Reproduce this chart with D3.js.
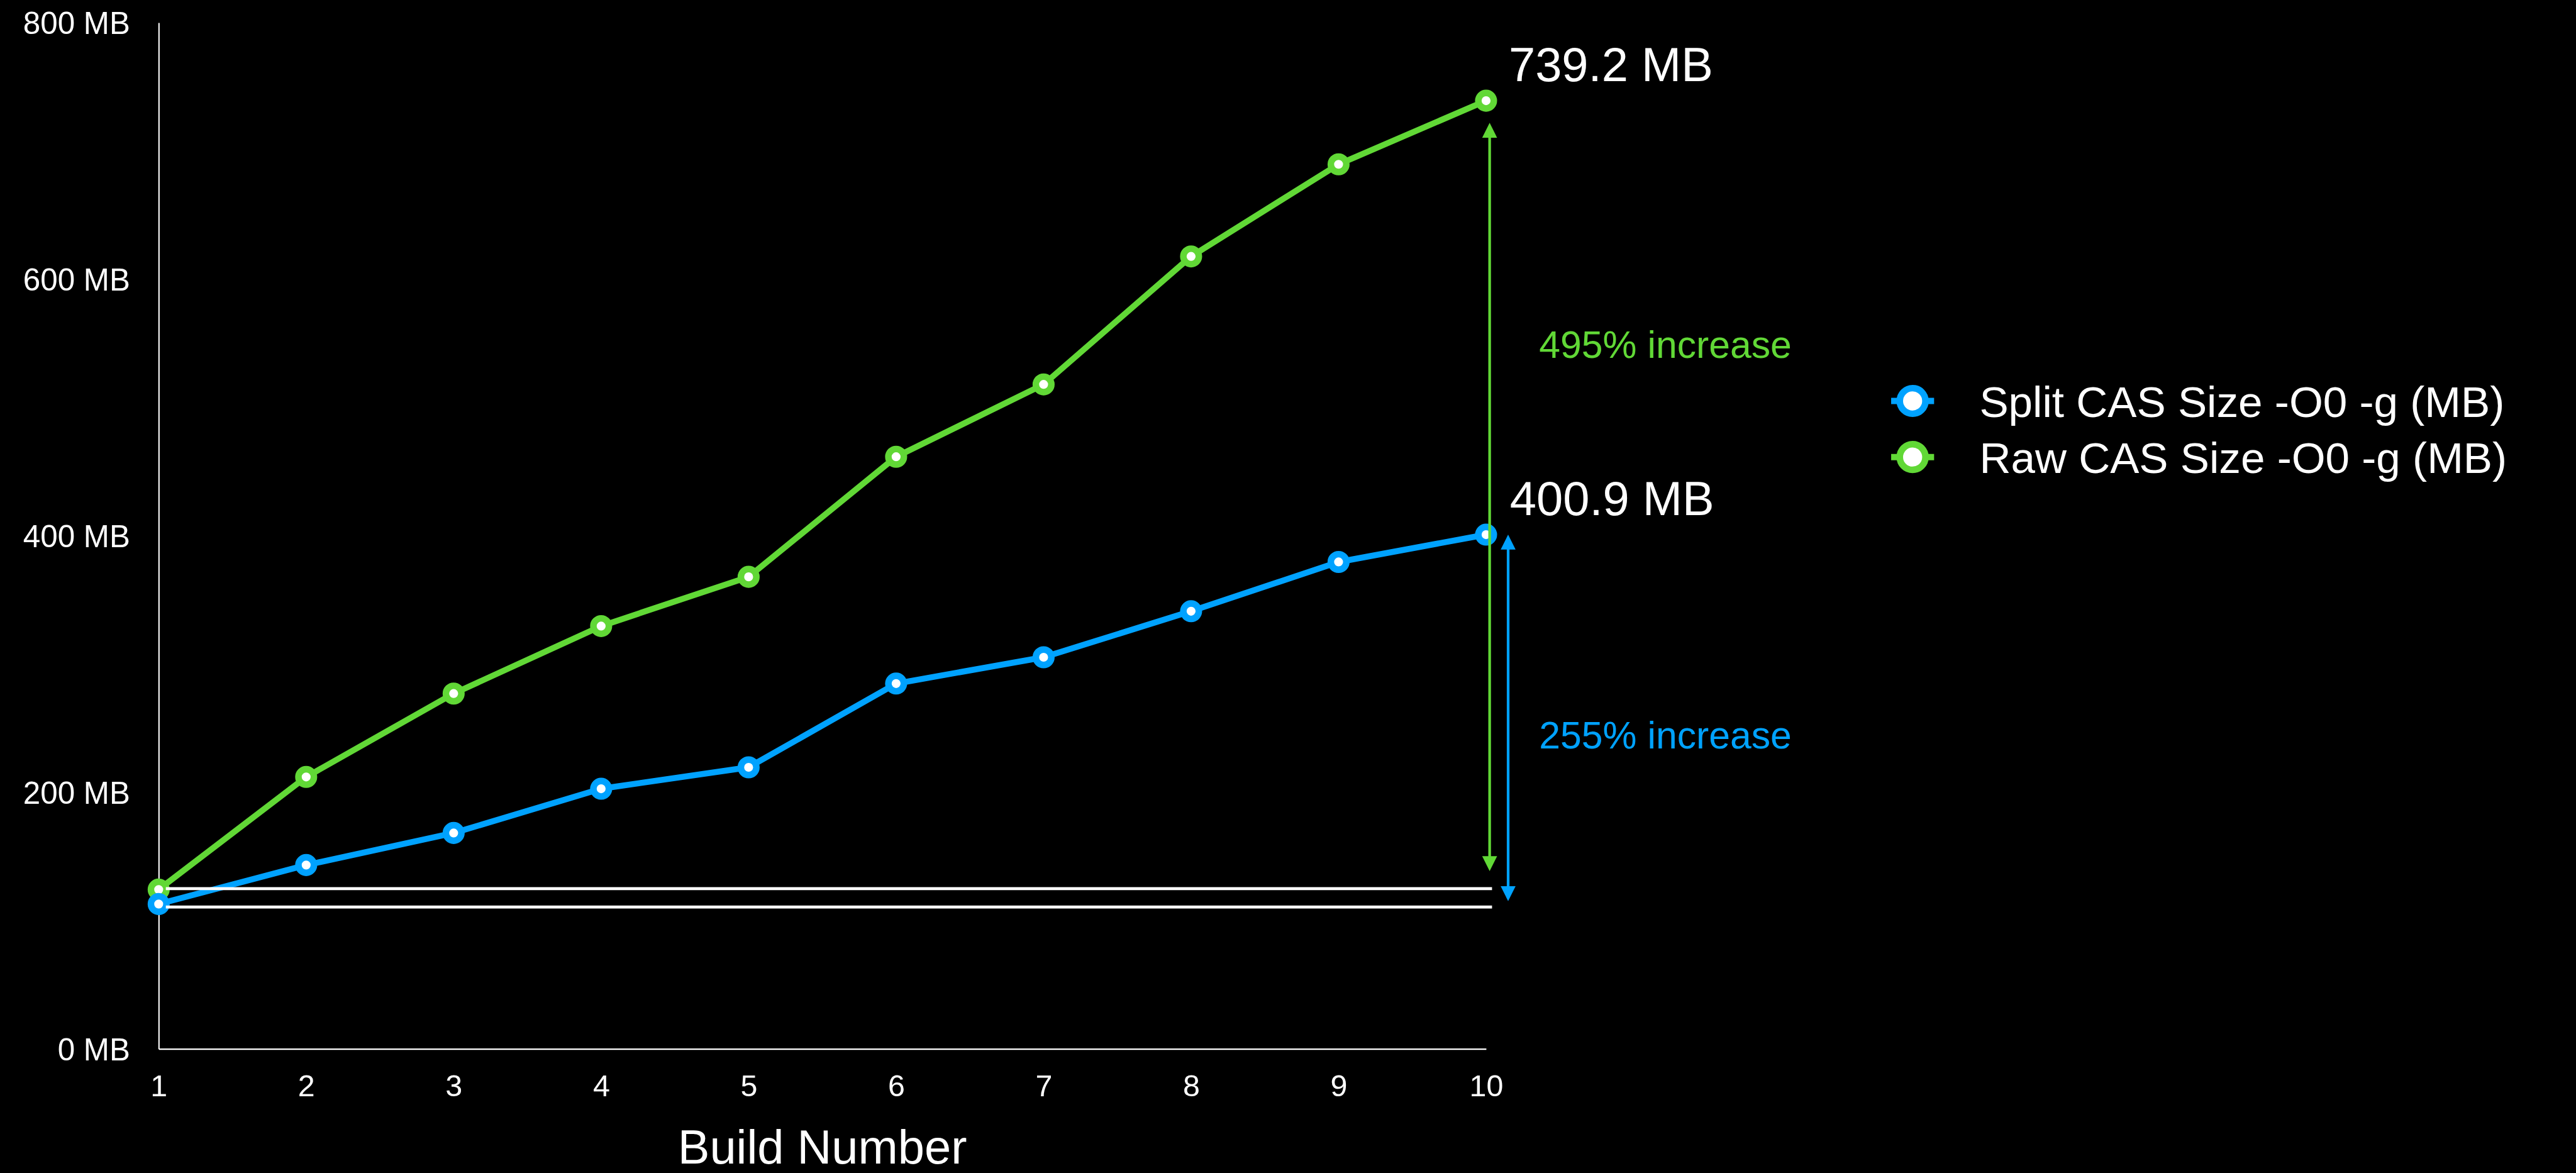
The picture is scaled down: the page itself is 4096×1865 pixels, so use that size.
<!DOCTYPE html>
<html>
<head>
<meta charset="utf-8">
<script src="https://cdn.jsdelivr.net/npm/d3@7"></script>
<style>
  html, body { margin: 0; padding: 0; background: #000; overflow: hidden; }
  svg { display: block; }
  text { font-family: "Liberation Sans", Arial, Helvetica, sans-serif; }
</style>
</head>
<body>
<svg id="chart"></svg>
<script>
// Build-to-build CAS size, in MB
const builds = [1, 2, 3, 4, 5, 6, 7, 8, 9, 10];
const splitCAS = [112.9, 143.3, 168.3, 202.8, 219.5, 284.8, 305.3, 341.2, 379.6, 400.9];
const rawCAS   = [124.2, 212.0, 277.0, 329.6, 368.0, 461.6, 518.0, 617.8, 689.6, 739.2];
const yTicks = [0, 200, 400, 600, 800];
const seriesNames = ["Split CAS Size -O0 -g (MB)", "Raw CAS Size -O0 -g (MB)"];
const endLabels = ["400.9 MB", "739.2 MB"];
const increaseLabels = ["255% increase", "495% increase"];
const baselineGuides = [110.6, 124.9];
const xTitle = "Build Number";

const BLUE = "#00a2ff", GREEN = "#61d836";

// Layout is authored in a 4318 x 1966 space and scaled to the window.
const W = 4318, H = 1966;
const svg = d3.select("#chart")
  .attr("width", 4096).attr("height", 1865)
  .attr("viewBox", `0 0 ${W} ${H}`);
svg.append("rect").attr("width", W).attr("height", H).attr("fill", "#000");

const x = d3.scaleLinear().domain([1, 10]).range([266, 2491]);
const y = d3.scaleLinear().domain([0, 800]).range([1758, 38]);

// Axes
const yAxis = svg.append("g").attr("transform", `translate(${x(1)},0)`)
  .call(d3.axisLeft(y).tickValues(yTicks).tickSize(0).tickPadding(48)
    .tickFormat(d => `${d} MB`));
const xAxis = svg.append("g").attr("transform", `translate(0,${y(0)})`)
  .call(d3.axisBottom(x).tickValues(builds).tickSize(0).tickPadding(43)
    .tickFormat(d3.format("d")));
[yAxis, xAxis].forEach(g => {
  g.select(".domain").attr("stroke", "#fff").attr("stroke-width", 2.2);
  g.selectAll("text").attr("fill", "#fff").attr("font-size", 52);
});
yAxis.selectAll("text").attr("dy", "0.36em");
xAxis.selectAll("text").attr("font-size", 51);

svg.append("text")
  .attr("x", (x(1) + x(10)) / 2).attr("y", 1950)
  .attr("text-anchor", "middle").attr("fill", "#fff").attr("font-size", 80)
  .text(xTitle);

// Series lines and markers
const series = [
  { values: rawCAS, color: GREEN },
  { values: splitCAS, color: BLUE }
];
const line = d3.line().x((d, i) => x(builds[i])).y(d => y(d));
series.forEach(s => {
  svg.append("path").datum(s.values)
    .attr("d", line).attr("fill", "none")
    .attr("stroke", s.color).attr("stroke-width", 10)
    .attr("stroke-linejoin", "round");
});
series.forEach(s => {
  svg.append("g").selectAll("circle").data(s.values).join("circle")
    .attr("cx", (d, i) => x(builds[i])).attr("cy", d => y(d))
    .attr("r", 13).attr("fill", "#fff")
    .attr("stroke", s.color).attr("stroke-width", 11);
});

// Baseline guides from build 1
svg.append("g").selectAll("line").data(baselineGuides).join("line")
  .attr("x1", x(1) + 12).attr("x2", x(10) + 10)
  .attr("y1", d => y(d)).attr("y2", d => y(d))
  .attr("stroke", "#fff").attr("stroke-width", 5);

// Double-headed growth arrows
function arrow(ax, yTop, yBot, color) {
  const hl = 25, hw = 12.5;
  svg.append("line").attr("x1", ax).attr("x2", ax)
    .attr("y1", yTop + hl - 1).attr("y2", yBot - hl + 1)
    .attr("stroke", color).attr("stroke-width", 4.5);
  svg.append("path")
    .attr("d", `M${ax},${yTop} L${ax - hw},${yTop + hl} L${ax + hw},${yTop + hl} Z`)
    .attr("fill", color);
  svg.append("path")
    .attr("d", `M${ax},${yBot} L${ax - hw},${yBot - hl} L${ax + hw},${yBot - hl} Z`)
    .attr("fill", color);
}
arrow(x(10) + 6, y(rawCAS[9]) + 37, y(rawCAS[0]) - 31, GREEN);
arrow(x(10) + 37, y(splitCAS[9]), y(splitCAS[0]) - 5, BLUE);

// End value labels
svg.append("text").attr("x", x(10) + 38).attr("y", y(rawCAS[9]) - 33)
  .attr("fill", "#fff").attr("font-size", 80).text(endLabels[1]);
svg.append("text").attr("x", x(10) + 40).attr("y", y(splitCAS[9]) - 33)
  .attr("fill", "#fff").attr("font-size", 80).text(endLabels[0]);

// Increase annotations
svg.append("text").attr("x", 2580).attr("y", 600)
  .attr("fill", GREEN).attr("font-size", 64).text(increaseLabels[1]);
svg.append("text").attr("x", 2580).attr("y", 1254)
  .attr("fill", BLUE).attr("font-size", 64).text(increaseLabels[0]);

// Legend
const legend = svg.append("g");
const legendRows = [
  { name: seriesNames[0], color: BLUE, cy: 672 },
  { name: seriesNames[1], color: GREEN, cy: 766 }
];
legendRows.forEach(r => {
  legend.append("line").attr("x1", 3170).attr("x2", 3242)
    .attr("y1", r.cy).attr("y2", r.cy)
    .attr("stroke", r.color).attr("stroke-width", 10.5);
  legend.append("circle").attr("cx", 3206).attr("cy", r.cy)
    .attr("r", 21.5).attr("fill", "#fff")
    .attr("stroke", r.color).attr("stroke-width", 11);
  legend.append("text").attr("x", 3318).attr("y", r.cy + 27)
    .attr("fill", "#fff").attr("font-size", 73).text(r.name);
});
</script>
</body>
</html>
